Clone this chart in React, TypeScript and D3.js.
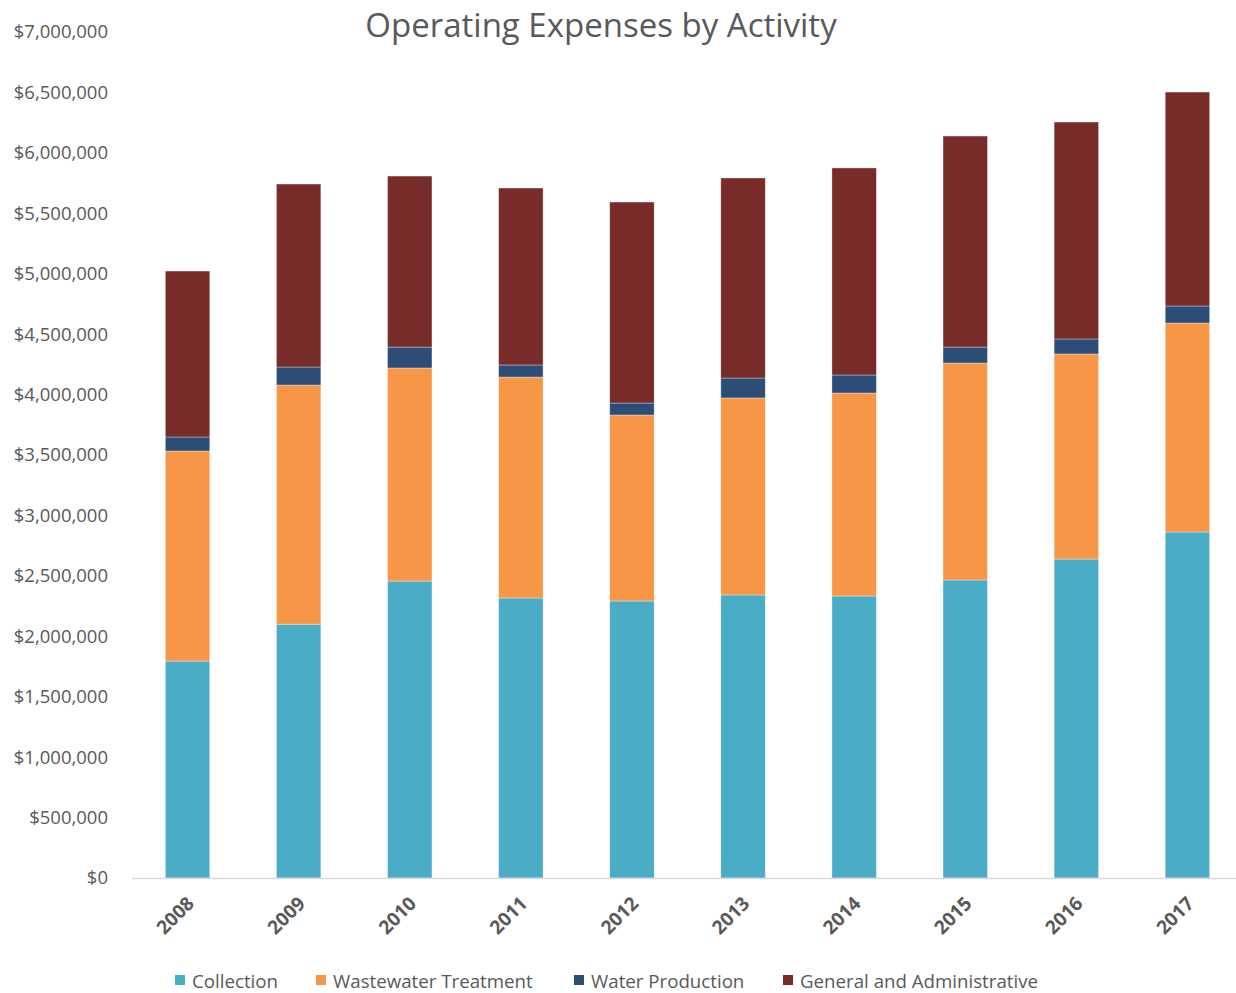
import React from "react";
import * as d3 from "d3";

const years = ["2008", "2009", "2010", "2011", "2012", "2013", "2014", "2015", "2016", "2017"];
const seriesNames = ["Collection", "Wastewater Treatment", "Water Production", "General and Administrative"];
const seriesColors = ["#4BACC6", "#F79646", "#2C4D75", "#772C2A"];
const collection = [1795000, 2100000, 2457000, 2317000, 2292000, 2342000, 2333000, 2466000, 2639000, 2863000];
const wastewater = [1738000, 1979000, 1763000, 1828000, 1539000, 1630000, 1680000, 1795000, 1697000, 1729000];
const waterProduction = [116000, 149000, 173000, 100000, 99000, 165000, 149000, 132000, 124000, 141000];
const generalAdmin = [1373000, 1514000, 1415000, 1464000, 1663000, 1655000, 1713000, 1746000, 1795000, 1770000];
const yTicks = [0, 500000, 1000000, 1500000, 2000000, 2500000, 3000000, 3500000, 4000000, 4500000, 5000000, 5500000, 6000000, 6500000, 7000000];

const W = 1236;
const H = 993;
const FONT = "'Open Sans', 'Noto Sans', sans-serif";

export default function App() {
  const left = 132;
  const right = 1243;
  const top = 32;
  const bottom = 878;

  const x = d3.scaleBand<string>().domain(years).range([left, right]).paddingInner(0.6).paddingOuter(0.3);
  const y = d3.scaleLinear().domain([0, 7000000]).range([bottom, top]);
  const fmt = (v: number) => "$" + d3.format(",")(v);

  const rows = years.map((yr, i) => ({
    year: yr,
    s0: collection[i],
    s1: wastewater[i],
    s2: waterProduction[i],
    s3: generalAdmin[i],
  }));
  const stack = d3.stack<any>().keys(["s0", "s1", "s2", "s3"]);
  const layers = stack(rows);

  const legendX = [175, 316, 574, 783];

  return (
    <svg width={W} height={H} style={{ position: "absolute", left: 0, top: 0, background: "#fff" }} fontFamily={FONT}>
      <rect x={0} y={0} width={W} height={H} fill="#fff" />
      <text x={601} y={37} textAnchor="middle" fontSize={33} fill="#595959">
        Operating Expenses by Activity
      </text>
      {yTicks.map((t) => (
        <text key={t} x={108} y={y(t)} dy="0.35em" textAnchor="end" fontSize={18.5} fill="#595959">
          {fmt(t)}
        </text>
      ))}
      {layers.map((layer, li) => (
        <g key={li} fill={seriesColors[li]}>
          {layer.map((d: any, i: number) => (
            <rect
              key={i}
              x={x(d.data.year)!}
              y={y(d[1])}
              width={x.bandwidth()}
              height={y(d[0]) - y(d[1])}
              stroke="#ffffff"
              strokeOpacity={0.45}
              strokeWidth={0.75}
            />
          ))}
        </g>
      ))}
      <line x1={left} x2={right} y1={bottom + 0.5} y2={bottom + 0.5} stroke="#D9D9D9" strokeWidth={1.5} />
      {years.map((yr) => {
        const cx = x(yr)! + x.bandwidth() / 2 + 3;
        const cy = 900;
        return (
          <text
            key={yr}
            transform={`translate(${cx},${cy}) rotate(-45)`}
            textAnchor="end"
            dy="0.35em"
            fontSize={19}
            fontWeight="bold"
            fill="#595959"
          >
            {yr}
          </text>
        );
      })}
      {seriesNames.map((n, i) => (
        <g key={n}>
          <rect x={legendX[i]} y={975} width={10} height={10} fill={seriesColors[i]} />
          <text x={legendX[i] + 17} y={981} dy="0.35em" fontSize={18.7} fill="#595959">
            {n}
          </text>
        </g>
      ))}
    </svg>
  );
}
